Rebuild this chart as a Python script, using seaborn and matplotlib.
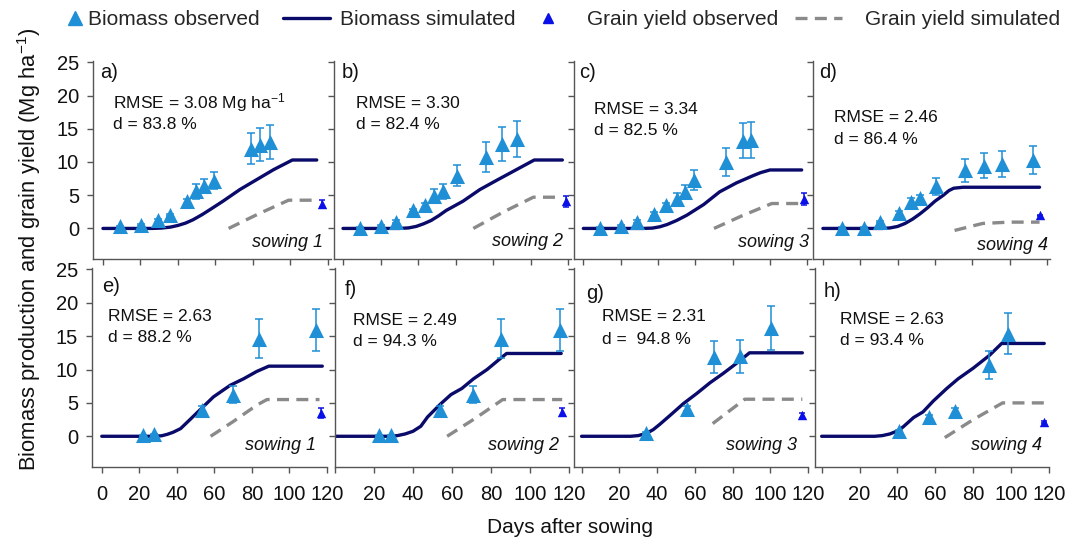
import matplotlib
matplotlib.use("Agg")
import matplotlib.pyplot as plt
from matplotlib.lines import Line2D
import seaborn as sns

# ---------------- data (panels a..h) ----------------
panel_tags = ["a)", "b)", "c)", "d)", "e)", "f)", "g)", "h)"]
rmse_text = ["RMSE = 3.08 Mg ha$^{-1}$", "RMSE = 3.30", "RMSE = 3.34", "RMSE = 2.46",
             "RMSE = 2.63", "RMSE = 2.49", "RMSE = 2.31", "RMSE = 2.63"]
d_text = ["d = 83.8 %", "d = 82.4 %", "d = 82.5 %", "d = 86.4 %",
          "d = 88.2 %", "d = 94.3 %", "d =  94.8 %", "d = 93.4 %"]
sowing_text = ["sowing 1", "sowing 2", "sowing 3", "sowing 4",
               "sowing 1", "sowing 2", "sowing 3", "sowing 4"]

# Biomass observed (day, Mg/ha, error)
bio_obs_day = [
    [9, 20.5, 29.5, 36, 45, 49.5, 54, 59, 79, 83.5, 89],
    [9, 20, 28, 37.5, 43.5, 48.5, 53.5, 61, 76, 85, 93],
    [9, 20, 29, 38, 44.5, 50, 54.5, 59.5, 76.5, 85.5, 90],
    [10, 22, 30.5, 40.5, 47, 52, 60.5, 76, 86, 96, 112.5],
    [22, 28, 53.5, 70, 84, 114],
    [22.5, 28.5, 54, 71, 85, 115.5],
    [34, 56, 70, 84, 100.5],
    [41, 56.5, 70.5, 88.5, 98.5],
]
bio_obs_val = [
    [0.3, 0.5, 1.2, 2.0, 4.1, 5.6, 6.4, 7.2, 12.0, 12.6, 13.0],
    [0.1, 0.35, 1.0, 2.7, 3.5, 4.85, 5.6, 7.95, 10.75, 12.7, 13.45],
    [0.1, 0.35, 1.0, 2.2, 3.5, 4.5, 5.5, 7.3, 10.0, 13.2, 13.3],
    [0.05, 0.1, 0.95, 2.35, 4.0, 4.6, 6.35, 8.75, 9.45, 9.7, 10.35],
    [0.15, 0.3, 4.0, 6.25, 14.6, 15.9],
    [0.15, 0.15, 4.0, 6.25, 14.6, 15.9],
    [0.5, 4.15, 11.9, 12.0, 16.2],
    [0.8, 2.9, 3.8, 10.7, 15.35],
]
bio_obs_err = [
    [0.1, 0.1, 0.2, 0.2, 0.4, 1.1, 1.1, 1.3, 2.3, 2.5, 2.6],
    [0.1, 0.1, 0.2, 0.3, 0.4, 1.05, 1.1, 1.6, 2.2, 2.55, 2.7],
    [0.1, 0.1, 0.2, 0.3, 0.4, 0.8, 1.0, 1.5, 2.05, 2.65, 2.7],
    [0.1, 0.1, 0.2, 0.3, 0.6, 0.5, 1.3, 1.75, 1.9, 1.95, 2.1],
    [0.1, 0.1, 0.5, 1.25, 2.9, 3.15],
    [0.1, 0.1, 0.5, 1.25, 2.9, 3.15],
    [0.2, 0.4, 2.35, 2.45, 3.3],
    [0.2, 0.3, 0.4, 2.1, 3.1],
]

# Biomass simulated
bio_sim_day = [
    [0, 26, 31, 36, 40, 44, 48, 53, 58, 64, 73, 82, 91, 101, 114],
    [0, 30, 35, 39, 43, 47, 51, 55, 64, 73, 82, 92.5, 102, 117],
    [0, 32, 37, 41, 45, 50, 55.5, 64.5, 73, 82, 91, 95, 100, 117],
    [0, 32, 36, 40, 44, 48, 52, 56, 60, 64.5, 67.5, 70, 75, 116],
    [0, 28, 32, 35, 38, 42, 47, 52.5, 59.5, 68.5, 75.5, 82.5, 89, 117.5],
    [0, 28, 32, 36, 40, 44, 47.5, 54, 59.5, 65, 71, 78, 85, 88, 116],
    [0, 26, 30, 34.5, 38, 41.5, 47, 54, 61, 68, 75, 82, 89, 117],
    [0, 28, 32, 36, 40, 43, 48.5, 53.5, 59, 66, 72, 80, 88.5, 95, 117.5],
]
bio_sim_val = [
    [0, 0, 0.05, 0.2, 0.45, 0.8, 1.3, 2.1, 3.0, 4.1, 5.85, 7.35, 8.85, 10.3, 10.3],
    [0, 0, 0.08, 0.3, 0.7, 1.2, 1.9, 2.7, 4.1, 5.85, 7.25, 8.85, 10.3, 10.3],
    [0, 0, 0.05, 0.25, 0.6, 1.2, 2.0, 3.6, 5.5, 6.85, 7.95, 8.4, 8.8, 8.8],
    [0, 0, 0.08, 0.3, 0.75, 1.4, 2.2, 3.1, 4.1, 5.0, 5.7, 6.05, 6.2, 6.2],
    [0, 0, 0.08, 0.3, 0.6, 1.15, 2.5, 4.0, 5.9, 7.65, 8.6, 9.7, 10.5, 10.5],
    [0, 0, 0.1, 0.35, 0.75, 1.5, 2.9, 4.8, 6.25, 7.15, 8.6, 10.0, 11.7, 12.4, 12.4],
    [0, 0, 0.1, 0.45, 1.0, 1.8, 3.15, 4.9, 6.4, 8.0, 9.4, 10.9, 12.5, 12.5],
    [0, 0, 0.1, 0.35, 0.8, 1.4, 2.8, 3.65, 5.3, 7.15, 8.6, 10.2, 12.1, 13.9, 13.9],
]

# Grain yield simulated
grain_sim_day = [
    [67, 83, 99, 114],
    [69.5, 85, 101.5, 116.5],
    [70, 85, 101, 117],
    [70.5, 85.5, 100, 116],
    [58, 70, 82.5, 88, 116],
    [57.5, 72, 86, 116.5],
    [69.5, 86.5, 117],
    [65, 80, 95.5, 117.5],
]
grain_sim_val = [
    [0, 2.2, 4.25, 4.25],
    [0, 2.4, 4.7, 4.7],
    [0, 1.9, 3.75, 3.75],
    [-0.3, 0.75, 0.95, 0.95],
    [0, 2.2, 4.65, 5.5, 5.5],
    [0, 2.7, 5.5, 5.5],
    [1.9, 5.55, 5.55],
    [-0.2, 2.5, 5.0, 5.0],
]

# Grain yield observed
grain_obs_day = [117, 119, 118.5, 116, 117, 116.5, 117, 117.5]
grain_obs_val = [3.75, 4.1, 4.5, 1.95, 3.5, 3.65, 3.15, 2.15]
grain_obs_err = [0.5, 0.8, 0.9, 0.1, 0.7, 0.6, 0.4, 0.1]

x_ticks = [0, 20, 40, 60, 80, 100, 120]
y_ticks = [0, 5, 10, 15, 20, 25]
legend_labels = ["Biomass observed", "Biomass simulated", "Grain yield observed",
                 "Grain yield simulated"]

# ---------------- style ----------------
sns.set_theme(style="white")
plt.rcParams["font.family"] = ["Liberation Sans", "DejaVu Sans"]
plt.rcParams["mathtext.fontset"] = "custom"
plt.rcParams["mathtext.rm"] = "Liberation Sans"
plt.rcParams["mathtext.it"] = "Liberation Sans:italic"

C_BIO_OBS = "#1f8fd6"
C_BIO_SIM = "#0a0a6a"
C_GRAIN_OBS = "#0a10e8"
C_GRAIN_SIM = "#8a8a8a"
C_SPINE = "#555555"
C_TEXT = "#111111"

W, H = 1070, 539
fig = plt.figure(figsize=(W / 100, H / 100), dpi=100)

# pixel layout: (x0, x1, y0, y1) and x-limits
layout = [
    (93, 331, 61, 259, (-5.3, 121.6)),
    (334, 571, 61, 259, (-4.8, 121.6)),
    (574, 811, 61, 259, (-5.0, 122.0)),
    (813, 1050, 61, 259, (-5.3, 121.6)),
    (92, 327, 268, 467, (-5.2, 120.0)),
    (335, 569, 268, 467, (0.0, 120.0)),
    (574, 808, 268, 467, (-4.0, 120.0)),
    (815, 1049, 268, 467, (-3.5, 120.0)),
]
tag_pos = [(0.03, 0.94), (0.033, 0.94), (0.023, 0.94), (0.025, 0.94),
           (0.041, 0.906), (0.043, 0.89), (0.051, 0.873), (0.036, 0.88)]
stat_pos = [(0.084, 0.788, 0.68), (0.094, 0.786, 0.68), (0.086, 0.753, 0.65),
            (0.09, 0.714, 0.605), (0.07, 0.755, 0.652), (0.075, 0.738, 0.633),
            (0.121, 0.755, 0.64), (0.107, 0.742, 0.638)]
sow_pos = [(0.966, 0.082), (0.966, 0.087), (0.99, 0.085), (0.99, 0.07),
           (0.953, 0.107), (0.958, 0.107), (0.955, 0.107), (0.97, 0.107)]

for i in range(8):
    x0, x1, y0, y1, xl = layout[i]
    ax = fig.add_axes([x0 / W, 1 - y1 / H, (x1 - x0) / W, (y1 - y0) / H])

    sns.lineplot(x=bio_sim_day[i], y=bio_sim_val[i], ax=ax, color=C_BIO_SIM,
                 lw=2.4, zorder=2)
    sns.lineplot(x=grain_sim_day[i], y=grain_sim_val[i], ax=ax, color=C_GRAIN_SIM,
                 lw=2.4, zorder=2)
    ax.lines[-1].set_dashes((3.6, 2.2))

    ax.errorbar(bio_obs_day[i], bio_obs_val[i], yerr=bio_obs_err[i], fmt="none",
                ecolor=C_BIO_OBS, elinewidth=1.1, capsize=3, capthick=1.1, zorder=3)
    sns.scatterplot(x=bio_obs_day[i], y=bio_obs_val[i], ax=ax, marker="^", s=118,
                    color=C_BIO_OBS, linewidth=0, zorder=4)
    ax.errorbar([grain_obs_day[i]], [grain_obs_val[i]], yerr=[grain_obs_err[i]],
                fmt="none", ecolor=C_GRAIN_OBS, elinewidth=1.1, capsize=2.5,
                capthick=1.1, zorder=3)
    sns.scatterplot(x=[grain_obs_day[i]], y=[grain_obs_val[i]], ax=ax, marker="^",
                    s=46, color=C_GRAIN_OBS, linewidth=0, zorder=4)

    ax.set_xlim(*xl)
    ax.set_ylim(-4.6, 25.2)
    ax.set_xticks(x_ticks)
    ax.set_yticks(y_ticks)
    ax.set_xlabel("")
    ax.set_ylabel("")
    for s in ("top", "right"):
        ax.spines[s].set_visible(False)
    for s in ("left", "bottom"):
        ax.spines[s].set_color(C_SPINE)
        ax.spines[s].set_linewidth(1.0)
    ax.tick_params(axis="both", which="both", bottom=True, left=True,
                   direction="out", length=4, width=1, color=C_SPINE,
                   labelsize=14.5, labelcolor=C_TEXT)
    ax.tick_params(axis="y", pad=6)
    ax.tick_params(axis="x", pad=9)
    if i % 4 != 0:
        ax.tick_params(axis="y", labelleft=False)
    if i < 4:
        ax.tick_params(axis="x", labelbottom=False)
    elif i > 4:
        # the "0" of these panels sits under the neighbour's "120"
        ax.xaxis.get_major_ticks()[0].label1.set_visible(False)

    ax.text(tag_pos[i][0], tag_pos[i][1], panel_tags[i], transform=ax.transAxes,
            fontsize=14.5, ha="left", va="center", color=C_TEXT)
    sx, sy1, sy2 = stat_pos[i]
    ax.text(sx, sy1, rmse_text[i], transform=ax.transAxes, fontsize=12.5,
            ha="left", va="center", color=C_TEXT)
    ax.text(sx, sy2, d_text[i], transform=ax.transAxes, fontsize=12.5,
            ha="left", va="center", color=C_TEXT)
    ax.text(sow_pos[i][0], sow_pos[i][1], sowing_text[i], transform=ax.transAxes,
            fontsize=13, style="italic", ha="right", va="center", color=C_TEXT)

fig.text(0.027, 0.538, "Biomass production and grain yield (Mg ha$^{-1}$)",
         rotation=90, ha="center", va="center", fontsize=15.8, color=C_TEXT)
fig.text(0.533, 0.022, "Days after sowing", ha="center", va="center",
         fontsize=15, color=C_TEXT)

handles = [
    Line2D([], [], marker="^", color=C_BIO_OBS, linestyle="none", markersize=10.5),
    Line2D([], [], color=C_BIO_SIM, lw=2.4),
    Line2D([], [], marker="^", color=C_GRAIN_OBS, linestyle="none", markersize=6.5),
    Line2D([], [], color=C_GRAIN_SIM, lw=2.4, dashes=(3.6, 2.2)),
]
# (left x in px, handlelength, handletextpad) for each legend entry
leg_layout = [(65, 1.0, 0.1), (283, 2.24, 0.5), (538, 1.0, 1.35), (795, 2.24, 1.1)]
for h, lab, (lx, hl, tp) in zip(handles, legend_labels, leg_layout):
    fig.legend([h], [lab], loc="center left", bbox_to_anchor=(lx / W, 0.963),
               frameon=False, fontsize=15, handlelength=hl, handletextpad=tp,
               borderpad=0, borderaxespad=0)

fig.savefig("out.png", dpi=100)
